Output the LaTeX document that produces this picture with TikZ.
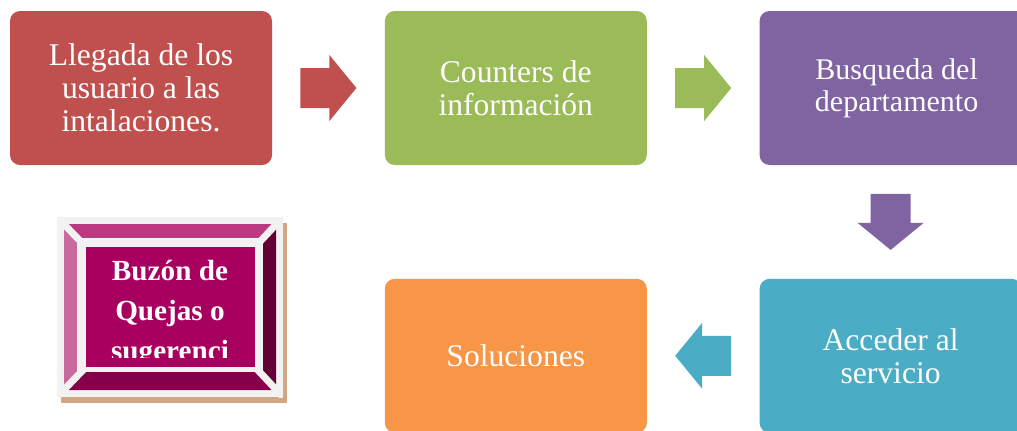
\documentclass[tikz,border=0pt]{standalone}
\usepackage{fontspec}
\setmainfont{Liberation Serif}
\usetikzlibrary{positioning,calc}
\definecolor{stepRed}{HTML}{C0504D}
\definecolor{stepGreen}{HTML}{9BBB59}
\definecolor{stepViolet}{HTML}{8064A2}
\definecolor{stepCyan}{HTML}{4BACC6}
\definecolor{stepOrange}{HTML}{F79646}
\definecolor{frameGrey}{HTML}{F2F2F2}
\definecolor{shadowTan}{HTML}{D2A683}
\definecolor{bevelTop}{HTML}{B93A7E}
\definecolor{bevelLeft}{HTML}{C96A9F}
\definecolor{bevelRight}{HTML}{640036}
\definecolor{bevelBottom}{HTML}{85004A}
\definecolor{bevelFace}{HTML}{A8005E}
\tikzset{
  stage/.style={rounded corners=5pt,minimum width=131pt,minimum height=77pt,
                inner sep=4pt,align=center,text=white,
                font=\fontsize{15.8}{16.5}\selectfont},
  blockarrow/.pic={
    \path[pic actions] (-28,-20) -- (1,-20) -- (1,-33) -- (28,0) -- (1,33) -- (1,20) -- (-28,20) -- cycle;
  }
}
\begin{document}
\begin{tikzpicture}[x=0.5pt,y=-0.5pt,node distance=56.5pt and 56pt]
  \path[use as bounding box,clip] (0,0) rectangle (1017,430);
  \node[stage,fill=stepRed] (llegada) at (141,88) {Llegada de los\\usuario a las\\intalaciones.};
  \node[stage,fill=stepGreen,right=of llegada] (counters) {Counters de\\información};
  \node[stage,fill=stepViolet,right=of counters,minimum width=137pt,font=\fontsize{15}{16}\selectfont] (busqueda) {Busqueda del\\departamento};
  \node[stage,fill=stepOrange,below=of counters] (soluciones) {Soluciones};
  \node[stage,fill=stepCyan,right=of soluciones] (acceder) {Acceder al\\servicio};
  \path ($(llegada.east)!0.5!(counters.west)$) pic[fill=stepRed] {blockarrow};
  \path ($(counters.east)!0.5!(busqueda.west)$) pic[fill=stepGreen] {blockarrow};
  \path ($(acceder.north)!0.5!(acceder.north |- busqueda.south)$) pic[fill=stepViolet,rotate=-90] {blockarrow};
  \path ($(soluciones.east)!0.5!(acceder.west)$) pic[fill=stepCyan,rotate=180] {blockarrow};
  % bevelled box
  \fill[shadowTan] (61,223) rectangle (287,403);
  \fill[frameGrey] (57,217) rectangle (283,397);
  \fill[bevelTop] (64,224) -- (276,224) -- (263,238) -- (77,238) -- cycle;
  \fill[bevelLeft] (64,224) -- (77,238) -- (77,372) -- (64,390) -- cycle;
  \fill[bevelRight] (276,224) -- (276,390) -- (263,372) -- (263,238) -- cycle;
  \fill[bevelBottom] (64,390) -- (276,390) -- (263,372) -- (77,372) -- cycle;
  \fill[frameGrey] (77,238) rectangle (263,372);
  \begin{scope}
    \clip (57,217) rectangle (283,397);
    \draw[frameGrey,line width=3.5pt] (57,217) -- (86,247) (283,217) -- (255,247)
      (57,397) -- (86,367) (283,397) -- (255,367);
  \end{scope}
  \fill[bevelFace] (86,247) rectangle (255,367);
  \begin{scope}
    \clip (86,247) rectangle (255,357);
    \node[anchor=north,align=center,inner sep=0,text=white,
          font=\bfseries\fontsize{14.6}{20}\selectfont] (buzon) at (170,260) {Buzón de\\Quejas o\\sugerenci};
  \end{scope}
\end{tikzpicture}
\end{document}
